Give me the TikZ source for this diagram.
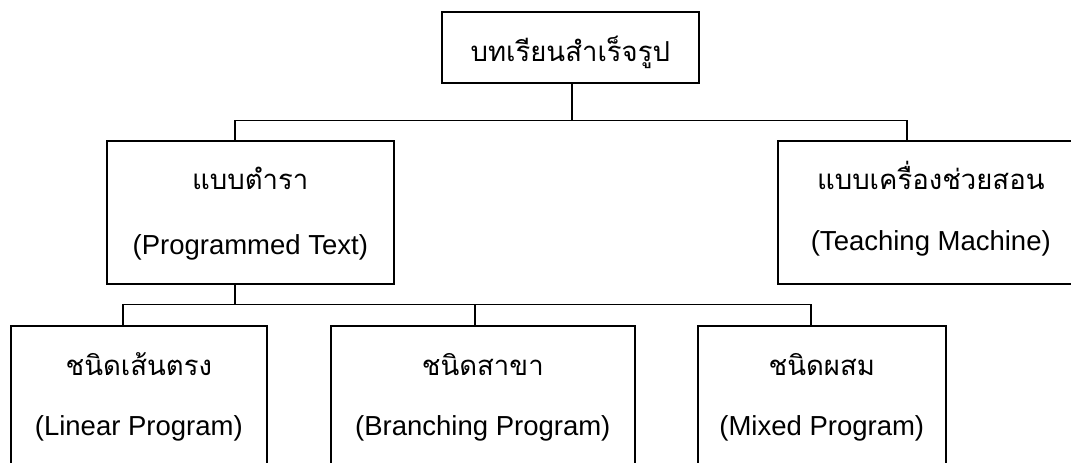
\documentclass[tikz,border=0pt]{standalone}
\usepackage{fontspec}
\setmainfont{Liberation Sans}
\newfontfamily\thaifont[Script=Thai]{Loma}
\begin{document}
\begin{tikzpicture}[x=1pt,y=-1pt,
  box/.style={draw=black,line width=1.6pt,rectangle,inner sep=0pt,anchor=north west},
  conn/.style={draw=black,line width=1.6pt},
  th/.style={anchor=base,inner sep=0pt,font=\thaifont\fontsize{27.5}{33}\selectfont},
  en/.style={anchor=base,inner sep=0pt,font=\fontsize{27.5}{33}\selectfont}]
\useasboundingbox[fill=white] (0,0) rectangle (1071,463);
% boxes
\node[box,minimum width=257pt,minimum height=71pt] (top) at (441,11) {};
\node[box,minimum width=287pt,minimum height=143pt] (ml) at (106,140) {};
\node[box,minimum width=306pt,minimum height=143pt] (mr) at (777,140) {};
\node[box,minimum width=256pt,minimum height=170pt] (bl) at (10,325) {};
\node[box,minimum width=304pt,minimum height=170pt] (bm) at (330,325) {};
\node[box,minimum width=248pt,minimum height=170pt] (br) at (697,325) {};
% texts
\node[th] (ttop) at ([yshift=-50pt]top.north) {บทเรียนสำเร็จรูป};
\node[th] (tml) at ([yshift=-49pt]ml.north) {แบบตำรา};
\node[en] (eml) at ([yshift=-114pt]ml.north) {(Programmed Text)};
\node[th] (tmr) at ([yshift=-49pt]mr.north) {แบบเครื่องช่วยสอน};
\node[en] (emr) at ([yshift=-110pt]mr.north) {(Teaching Machine)};
\node[th] (tbl) at ([yshift=-50pt]bl.north) {ชนิดเส้นตรง};
\node[en] (ebl) at ([yshift=-110pt]bl.north) {(Linear Program)};
\node[th] (tbm) at ([yshift=-50pt]bm.north) {ชนิดสาขา};
\node[en] (ebm) at ([yshift=-110pt]bm.north) {(Branching Program)};
\node[th] (tbr) at ([yshift=-50pt]br.north) {ชนิดผสม};
\node[en] (ebr) at ([yshift=-110pt]br.north) {(Mixed Program)};
% connectors
\draw[conn] ([xshift=1.5pt]top.south) -- ++(0,37) coordinate (j1);
\draw[conn] ([xshift=-15.5pt]ml.north) |- (j1) -| ([xshift=-24pt]mr.north);
\draw[conn] ([xshift=-15.5pt]ml.south) -- ++(0,20) coordinate (j2);
\draw[conn] ([xshift=-16pt]bl.north) |- (j2) -| ([xshift=-11pt]br.north);
\draw[conn] ([xshift=-8pt]bm.north) -- ([xshift=-8pt]bm.north |- j2);
\end{tikzpicture}
\end{document}
